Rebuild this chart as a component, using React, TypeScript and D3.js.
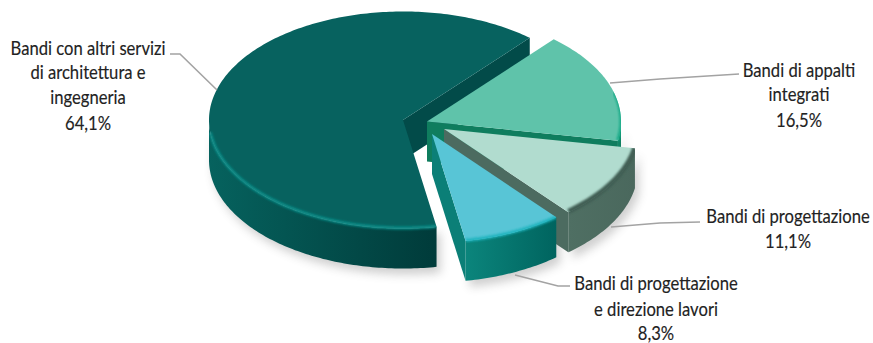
import React from "react";
import * as d3 from "d3";

// Share of tenders by type, in percent
const categories = [
  "Bandi di appalti integrati",
  "Bandi di progettazione",
  "Bandi di progettazione e direzione lavori",
  "Bandi con altri servizi di architettura e ingegneria",
];
const shares = [16.5, 11.1, 8.3, 64.1];
const shareLabels = ["16,5%", "11,1%", "8,3%", "64,1%"];
const labelLines = [
  ["Bandi di appalti", "integrati"],
  ["Bandi di progettazione"],
  ["Bandi di progettazione", "e direzione lavori"],
  ["Bandi con altri servizi", "di architettura e", "ingegneria"],
];

const WIDTH = 873;
const HEIGHT = 343;
const RX = 194;
const RY = 108.5;
const DEPTH = 40;
const START_DEG = 40.8;
const TEXT_SQUEEZE = 0.875;

// Position of each exploded wedge's apex
const apexes: [number, number][] = [
  [427, 121.5],
  [444, 129],
  [432, 134],
  [403, 120],
];

const looks = [
  { top: "#5fc3aa", cut: "#0f7d5e", wallA: "#12896a", wallB: "#0f7d5e", rim: "#12a884" },
  { top: "#b1dccf", cut: "#4c6b60", wallA: "#4f6f63", wallB: "#4a685d", rim: "#3f5d52" },
  { top: "#58c5d6", cut: "#0b7f77", wallA: "#0b857c", wallB: "#00645f", rim: "#1fb3bd" },
  { top: "#07625f", cut: "#024b49", wallA: "#06625e", wallB: "#003b3a", rim: "#0c8f8a" },
];

const labelAnchors = [
  { x: 799, rows: [77, 101, 127] },
  { x: 788, rows: [223, 248] },
  { x: 656, rows: [290, 316, 340] },
  { x: 88, rows: [55, 79, 104, 130] },
];

const leaders: [number, number][][] = [
  [[610, 83], [660, 79], [739, 74]],
  [[611, 227], [660, 223], [700, 222]],
  [[515, 275], [558, 286], [570, 286]],
  [[217, 90], [180, 54], [170, 54]],
];

const pie = d3
  .pie<number>()
  .sort(null)
  .startAngle((START_DEG * Math.PI) / 180)
  .endAngle((START_DEG * Math.PI) / 180 + 2 * Math.PI);
const wedges = pie(shares);

const line = d3.line<[number, number]>();

function rimPoint(apex: [number, number], a: number, drop = 0): [number, number] {
  return [apex[0] + RX * Math.sin(a), apex[1] - RY * Math.cos(a) + drop];
}

function sweep(apex: [number, number], a0: number, a1: number, drop = 0): [number, number][] {
  const n = Math.max(2, Math.ceil(Math.abs(a1 - a0) * 60));
  return d3.range(n + 1).map((i) => rimPoint(apex, a0 + ((a1 - a0) * i) / n, drop));
}

const FRONT_START = Math.PI / 2;
const FRONT_END = (3 * Math.PI) / 2;

export default function App() {
  const shapes = wedges.map((w, i) => {
    const apex = apexes[i];
    const a0 = Math.max(w.startAngle, FRONT_START);
    const a1 = Math.min(w.endAngle, FRONT_END);
    const end = rimPoint(apex, w.endAngle);
    return {
      a0,
      a1,
      cut: line([apex, end, [end[0], end[1] + DEPTH], [apex[0], apex[1] + DEPTH]]) + "Z",
      wall: line([...sweep(apex, a0, a1), ...sweep(apex, a1, a0, DEPTH)]) + "Z",
      top: line([apex, ...sweep(apex, w.startAngle, w.endAngle)]) + "Z",
    };
  });

  return (
    <svg
      width={WIDTH}
      height={HEIGHT}
      viewBox={`0 0 ${WIDTH} ${HEIGHT}`}
      style={{ position: "absolute", left: 0, top: 0, background: "#fff" }}
    >
      <defs>
        <filter id="soft-shadow" x="-20%" y="-20%" width="140%" height="140%">
          <feGaussianBlur stdDeviation="5" />
        </filter>
        <filter id="soft-rim" x="-10%" y="-10%" width="120%" height="120%">
          <feGaussianBlur stdDeviation="1" />
        </filter>
        {shapes.map((s, i) => (
          <clipPath key={i} id={`solid-${i}`}>
            <path d={s.top} />
            <path d={s.wall} />
          </clipPath>
        ))}
        {shapes.map((s, i) => (
          <linearGradient
            key={i}
            id={`wall-${i}`}
            gradientUnits="userSpaceOnUse"
            x1={rimPoint(apexes[i], s.a0)[0]}
            x2={rimPoint(apexes[i], s.a1)[0]}
            y1="0"
            y2="0"
          >
            <stop offset="0" stopColor={looks[i].wallB} />
            <stop offset="1" stopColor={looks[i].wallA} />
          </linearGradient>
        ))}
      </defs>

      {/* Soft ground shadow cast by every wedge */}
      <g filter="url(#soft-shadow)" opacity={0.28} transform="translate(4,6)">
        {shapes.map((s, i) => (
          <path key={i} fill="#555" d={s.wall} />
        ))}
      </g>

      {/* Back to front: the large wedge, then the detached ones clockwise */}
      {[3, 0, 1, 2].map((i) => {
        const w = wedges[i];
        const s = shapes[i];
        const look = looks[i];
        const rimFrom = i === 0 ? Math.max(w.startAngle, 1.3) : s.a0;
        const rimTo = i === 3 ? s.a1 - 0.12 : s.a1;
        return (
          <g key={categories[i]}>
            <path d={s.cut} fill={look.cut} />
            <path d={s.wall} fill={`url(#wall-${i})`} />
            <path d={s.top} fill={look.top} />
            <g clipPath={`url(#solid-${i})`}>
              <path
                d={line(sweep(apexes[i], rimFrom, rimTo))!}
                fill="none"
                stroke={look.rim}
                strokeWidth={i === 1 ? 5 : 3}
                filter="url(#soft-rim)"
                transform={`translate(0,${i === 1 ? -1 : -0.5})`}
              />
            </g>
          </g>
        );
      })}

      {/* Leader lines */}
      {leaders.map((pts, i) => (
        <path key={i} d={line(pts)!} fill="none" stroke="#a3a3a3" strokeWidth={1.6} />
      ))}

      {/* Category names and percentages */}
      {labelLines.map((rows, i) => (
        <g key={i} transform={`translate(${labelAnchors[i].x},0) scale(${TEXT_SQUEEZE},1)`}>
          <text
            textAnchor="middle"
            fontFamily="Lato, 'Noto Sans', sans-serif"
            fontSize={19}
            fill="#222"
            stroke="#222"
            strokeWidth={0.15}
          >
            {[...rows, shareLabels[i]].map((t, j) => (
              <tspan key={j} x={0} y={labelAnchors[i].rows[j]}>
                {t}
              </tspan>
            ))}
          </text>
        </g>
      ))}
    </svg>
  );
}
